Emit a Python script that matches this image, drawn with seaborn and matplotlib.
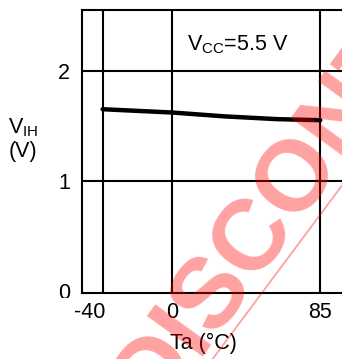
import matplotlib
matplotlib.use("Agg")
import matplotlib.pyplot as plt
from matplotlib.lines import Line2D
from matplotlib.transforms import Bbox, ScaledTranslation
import seaborn as sns
import pandas as pd

# ---- data ----
temps = [-40, 0, 30, 60, 85]
vih = [1.65, 1.62, 1.585, 1.56, 1.55]
x_ticks = [-40, 0, 85]
x_tick_labels = ["-40", "0", "85"]
y_ticks = [0, 1, 2]
y_tick_labels = ["0", "1", "2"]
condition_label = r"$\mathrm{V_{CC}}$=5.5 V"
y_label = r"$\mathrm{V_{IH}}$" + "\n(V)"
x_label = "Ta (°C)"
watermark = "DISCONTINUED"

sns.set_theme(style="white")
plt.rcParams["font.family"] = ["Liberation Sans", "DejaVu Sans"]
plt.rcParams["mathtext.fontset"] = "custom"
plt.rcParams["mathtext.rm"] = "Liberation Sans"
plt.rcParams["mathtext.it"] = "Liberation Sans:italic"
plt.rcParams["mathtext.bf"] = "Liberation Sans:bold"

W, H = 342, 359
fig = plt.figure(figsize=(W / 100, H / 100), dpi=100)
fig.patch.set_facecolor("white")

left_px, right_px, top_px, bottom_px = 81.7, 342, 10, 292.7
ax = fig.add_axes([left_px / W, (H - bottom_px) / H,
                   (right_px - left_px) / W, (bottom_px - top_px) / H])
ax.set_facecolor("white")

df = pd.DataFrame({"Ta": temps, "VIH": vih})
sns.lineplot(data=df, x="Ta", y="VIH", ax=ax, color="black", linewidth=3.2,
             solid_capstyle="round", zorder=5)

ax.set_xlim(-52, 97.5)
ax.set_ylim(-0.018, 2.552)
ax.set_xticks(x_ticks)
ax.set_xticklabels(x_tick_labels)
ax.set_yticks(y_ticks)
ax.set_yticklabels(y_tick_labels)
ax.set_xlabel("")
ax.set_ylabel("")
ax.grid(True, color="black", linewidth=1.5)
ax.tick_params(axis="both", length=0, labelsize=15.5, colors="black")
ax.tick_params(axis="x", pad=7)
ax.tick_params(axis="y", pad=8.5)
for side in ["left", "bottom", "top"]:
    ax.spines[side].set_visible(True)
    ax.spines[side].set_color("black")
    ax.spines[side].set_linewidth(1.5)
ax.spines["right"].set_visible(False)

# shift "-40" label left, clip the "0" y label at the bottom, no grid at y=0
xt = ax.xaxis.get_major_ticks()
xt[0].label1.set_transform(xt[0].label1.get_transform()
                           + ScaledTranslation(-12.7 / 100, 0, fig.dpi_scale_trans))
yt = ax.yaxis.get_major_ticks()
yt[0].gridline.set_visible(False)
yt[0].label1.set_clip_on(True)
yt[0].label1.set_clip_box(Bbox.from_extents(0, H - 298, W, H))

fig.text(238 / W, 1 - 45 / H, condition_label, ha="center", va="center",
         fontsize=15.5, color="black")
fig.text(23 / W, 1 - 139 / H, y_label, ha="center", va="center",
         multialignment="center", fontsize=15.5, linespacing=1.15, color="black")
fig.text(203 / W, 1 - 343 / H, x_label, ha="center", va="center",
         fontsize=15.5, color="black")

# watermark
fig.text(154 / W, 1 - 414 / H, watermark, rotation=54, rotation_mode="anchor",
         ha="left", va="baseline", fontsize=72, fontweight="bold",
         color="red", alpha=0.37, zorder=10)
fig.add_artist(Line2D([200 / W, 355 / W], [1 - 376 / H, 1 - 168 / H],
                      transform=fig.transFigure, color="red", alpha=0.37,
                      linewidth=1.3, zorder=10))

fig.savefig("out.png", dpi=100)
